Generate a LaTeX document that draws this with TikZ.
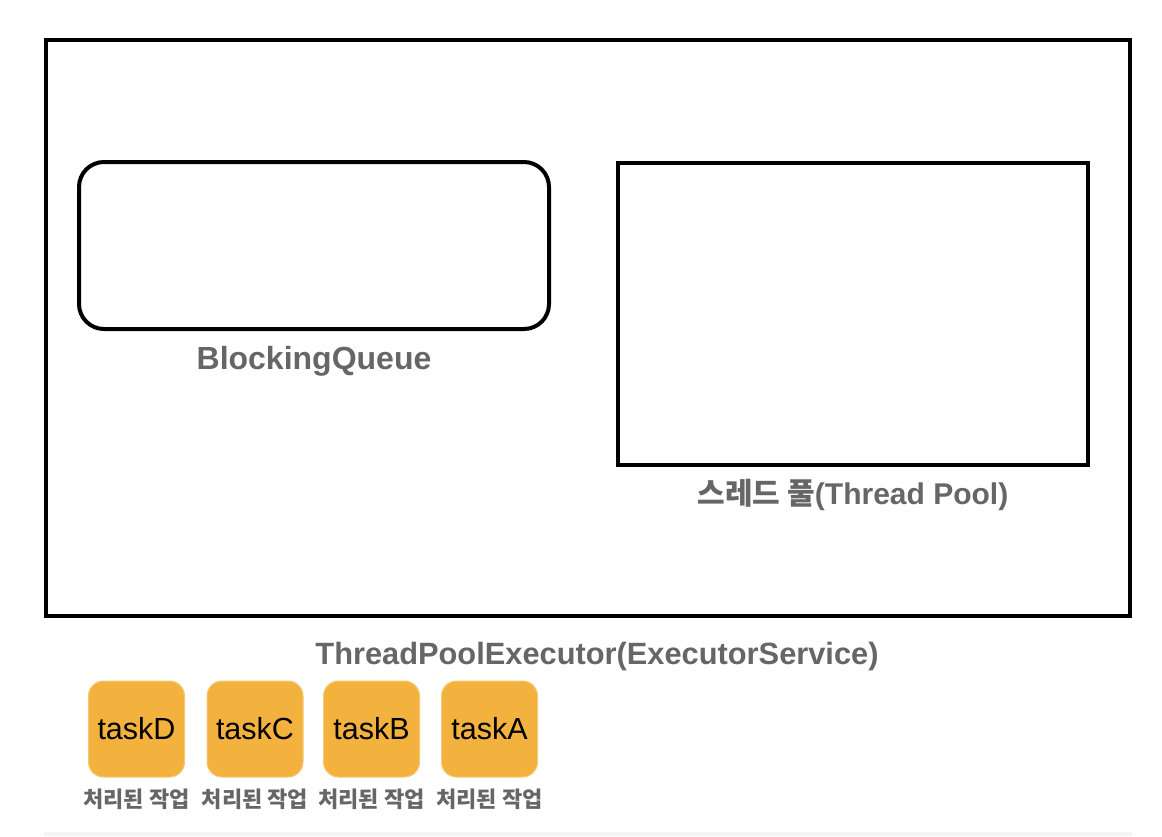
\documentclass[tikz,border=0pt]{standalone}
\usepackage{fontspec}
\setmainfont{Liberation Sans}
\newfontfamily\kr{Noto Sans CJK KR}
\usetikzlibrary{positioning}
\definecolor{labelgray}{HTML}{666666}
\definecolor{taskfill}{HTML}{F3B23E}
\definecolor{taskedge}{HTML}{F6C873}

\begin{document}
\begin{tikzpicture}[x=1pt,y=-1pt,
    frame/.style={draw,line width=4pt,inner sep=0pt,outer sep=0pt},
    title/.style={font=\fontsize{32}{38}\selectfont\bfseries,text=labelgray,inner sep=0pt,anchor=base},
    task/.style={fill=taskfill,draw=taskedge,line width=1pt,rounded corners=15pt,
      minimum width=96pt,minimum height=96pt,inner sep=0pt,outer sep=0pt,
      font=\fontsize{30.5}{36}\selectfont},
    done/.style={font=\kr\fontsize{22}{26}\selectfont\bfseries,text=labelgray,inner sep=0pt}]
  \useasboundingbox (0,0) rectangle (1162,836);
  \fill[black!4] (44,832) rectangle (1132,836);
  % executor with its queue and pool
  \node[frame,minimum width=1084pt,minimum height=576pt] (executor) at (588,328) {};
  \node[frame,rounded corners=25pt,minimum width=470pt,minimum height=167pt] (queue) at (314,245.5) {};
  \node[frame,minimum width=470pt,minimum height=302pt] (pool) at (853,314) {};
  \node[title] (queuelabel) at (314,369) {BlockingQueue};
  \node[title,font=\fontsize{30}{36}\selectfont\bfseries] (poollabel) at (853,504)
    {{\kr 스레드 풀}(Thread Pool)};
  \node[title,font=\fontsize{30.8}{36}\selectfont\bfseries] (executorlabel) at (597,664) {ThreadPoolExecutor(ExecutorService)};
  % finished tasks
  \foreach \t/\x in {D/136.5,C/255,B/371.5,A/489.5} {
    \node[task] (task\t) at (\x,729) {task\t};
    \node[done,below=12pt of task\t] (done\t) {처리된 작업};
  }
\end{tikzpicture}
\end{document}
